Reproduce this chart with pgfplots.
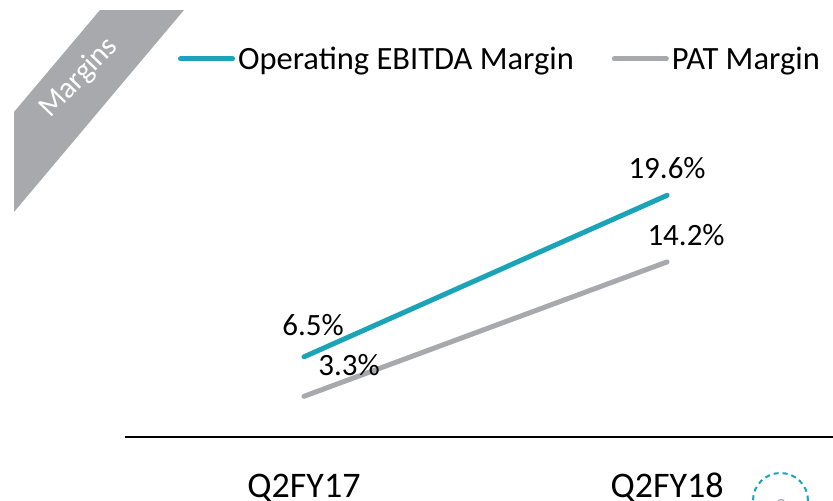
\documentclass[border=0pt]{standalone}
\usepackage{pgfplots}
\pgfplotsset{compat=1.18}
\usepackage{fontspec}
\setmainfont{Carlito}
\definecolor{tealA}{HTML}{1BA3B8}
\definecolor{grayA}{HTML}{A7A9AC}
\begin{document}
\begin{tikzpicture}
\path[use as bounding box, clip] (0,0) rectangle (833bp,-501bp);
\begin{scope}[x=1bp,y=-1bp]
\fill[grayA] (100,10) -- (184,10) -- (14,212) -- (14,112) -- cycle;
\node[white, rotate=46, font=\fontsize{30bp}{34bp}\selectfont] at (79,78) {Margins};
\draw[tealA, line width=2bp, dash pattern=on 5bp off 4bp] (780.5,500.5) circle (27.5bp);
\node[grayA, font=\fontsize{20bp}{22bp}\selectfont] at (781,506) {3};
\end{scope}
\begin{axis}[
  at={(125bp,-437bp)}, anchor=south west,
  scale only axis, width=708bp, height=437bp,
  xmin=-0.493, xmax=1.457, ymin=0, ymax=35.44,
  axis x line=bottom, axis y line=none,
  axis line style={-, line width=1.5bp, black},
  xtick={0,1}, xticklabels={Q2FY17,Q2FY18},
  major tick length=0pt, ytick=\empty,
  xticklabel style={font=\fontsize{36bp}{40bp}\selectfont, anchor=base, yshift=-60bp},
  clip=false,
  legend style={at={(axis description cs:0.0749,0.865)}, anchor=west, draw=none, fill=none,
    inner sep=0pt, outer sep=0pt,
    nodes={inner sep=0pt, font=\fontsize{32.5bp}{38bp}\selectfont},
    /tikz/every odd column/.append style={column sep=3bp},
    /tikz/every even column/.append style={column sep=38bp}},
  legend columns=2,
  legend image code/.code={\draw[#1, line cap=round] (2.5bp,0pt) -- (54.5bp,0pt);},
]
\addplot[tealA, line width=5bp, line cap=round, mark=none] coordinates {(0,6.5) (1,19.6)};
\addlegendentry{Operating EBITDA Margin}
\addplot[grayA, line width=5bp, line cap=round, mark=none] coordinates {(0,3.3) (1,14.2)};
\addlegendentry{PAT Margin}
\node[anchor=base, font=\fontsize{31bp}{36bp}\selectfont, xshift=9bp, yshift=21bp] at (axis cs:0,6.5) {6.5\%};
\node[anchor=base, font=\fontsize{31bp}{36bp}\selectfont, xshift=45bp, yshift=21bp] at (axis cs:0,3.3) {3.3\%};
\node[anchor=base, font=\fontsize{31bp}{36bp}\selectfont, xshift=0bp, yshift=17bp] at (axis cs:1,19.6) {19.6\%};
\node[anchor=base, font=\fontsize{31bp}{36bp}\selectfont, xshift=19bp, yshift=16bp] at (axis cs:1,14.2) {14.2\%};
\end{axis}
\end{tikzpicture}
\end{document}
